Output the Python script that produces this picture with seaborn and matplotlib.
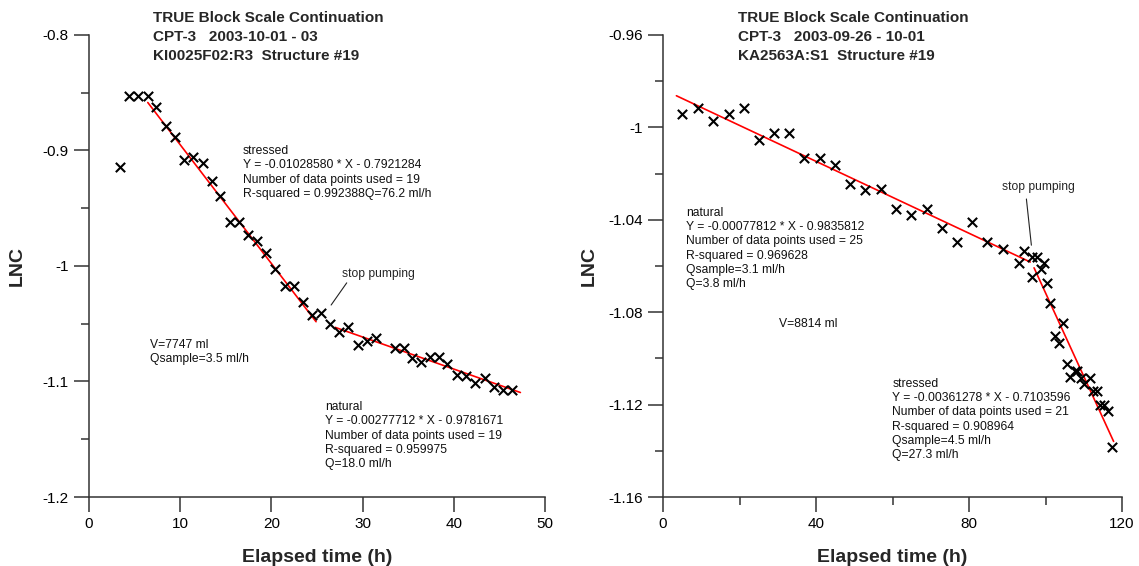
import matplotlib
matplotlib.use("Agg")
import matplotlib.pyplot as plt
from matplotlib.ticker import MultipleLocator
import numpy as np
import seaborn as sns

# ---- data ----
# left panel: KI0025F02:R3
left_time = [3.4, 4.4, 5.4, 6.45, 7.4, 8.4, 9.4, 10.45, 11.4, 12.45, 13.45, 14.4,
             15.45, 16.45, 17.45, 18.45, 19.45, 20.4, 21.5, 22.5, 23.5, 24.5, 25.4,
             26.4, 27.45, 28.4, 29.45, 30.45, 31.45, 33.5, 34.5, 35.4, 36.4, 37.4,
             38.35, 39.3, 40.3, 41.3, 42.3, 43.4, 44.4, 45.4, 46.4]
left_lnc = [-0.914, -0.853, -0.853, -0.853, -0.862, -0.879, -0.888, -0.908, -0.906,
            -0.911, -0.926, -0.939, -0.962, -0.962, -0.973, -0.978, -0.989, -1.003,
            -1.017, -1.017, -1.031, -1.042, -1.041, -1.050, -1.057, -1.053, -1.068,
            -1.065, -1.062, -1.071, -1.071, -1.080, -1.083, -1.079, -1.079, -1.085,
            -1.094, -1.095, -1.101, -1.097, -1.105, -1.107, -1.107]

# right panel: KA2563A:S1
right_time = [5.06, 9.13, 13.04, 17.14, 21.13, 25.04, 29.13, 33.05, 36.96, 41.06,
              44.97, 48.97, 52.9, 57.0, 60.9, 64.8, 68.9, 72.9, 76.8, 80.9, 84.8,
              88.8, 93.1, 94.4, 96.4, 96.5, 97.8, 98.7, 99.6, 100.5, 101.3, 102.4,
              103.5, 104.6, 105.5, 106.3, 107.6, 108.3, 109.4, 110.0, 111.5, 112.4,
              113.4, 114.3, 115.4, 116.3, 117.4]
right_lnc = [-0.9944, -0.9914, -0.9972, -0.9944, -0.9914, -1.0054, -1.0024, -1.0024,
             -1.0134, -1.0134, -1.0162, -1.0247, -1.0269, -1.0265, -1.0353, -1.0379,
             -1.0353, -1.0437, -1.0495, -1.0408, -1.0495, -1.0525, -1.0586, -1.0533,
             -1.0562, -1.0648, -1.0562, -1.0615, -1.0586, -1.0674, -1.0762, -1.0902,
             -1.0934, -1.0848, -1.1023, -1.1082, -1.1053, -1.1056, -1.1085, -1.1110,
             -1.1085, -1.1142, -1.1139, -1.1202, -1.1202, -1.1228, -1.1383]

# regression lines: (slope, intercept) and the time span they cover
left_stressed_coef = (-0.01028580, -0.7921284)
left_stressed_span = [6.45, 24.9]
left_natural_coef = (-0.00277712, -0.9781671)
left_natural_span = [27.0, 47.3]
right_natural_coef = (-0.00077812, -0.9835812)
right_natural_span = [3.5, 96.0]
right_stressed_coef = (-0.00361278, -0.7103596)
right_stressed_span = [97.0, 117.8]

left_title = ["TRUE Block Scale Continuation", "CPT-3   2003-10-01 - 03",
              "KI0025F02:R3  Structure #19"]
right_title = ["TRUE Block Scale Continuation", "CPT-3   2003-09-26 - 10-01",
               "KA2563A:S1  Structure #19"]

left_stressed_txt = ["stressed", "Y = -0.01028580 * X - 0.7921284",
                     "Number of data points used = 19", "R-squared = 0.992388Q=76.2 ml/h"]
left_natural_txt = ["natural", "Y = -0.00277712 * X - 0.9781671",
                    "Number of data points used = 19", "R-squared = 0.959975", "Q=18.0 ml/h"]
left_volume_txt = ["V=7747 ml", "Qsample=3.5 ml/h"]
right_natural_txt = ["natural", "Y = -0.00077812 * X - 0.9835812",
                     "Number of data points used = 25", "R-squared = 0.969628",
                     "Qsample=3.1 ml/h", "Q=3.8 ml/h"]
right_stressed_txt = ["stressed", "Y = -0.00361278 * X - 0.7103596",
                      "Number of data points used = 21", "R-squared = 0.908964",
                      "Qsample=4.5 ml/h", "Q=27.3 ml/h"]
right_volume_txt = ["V=8814 ml"]

sns.set_style("ticks")
plt.rcParams['font.family'] = ['Liberation Sans', 'DejaVu Sans']

fig = plt.figure(figsize=(11.39, 5.66), dpi=100)
ax1 = fig.add_axes([0.0781, 0.1219, 0.4004, 0.8163])
ax2 = fig.add_axes([0.5821, 0.1219, 0.4030, 0.8163])


def fit_line(ax, coef, span):
    xs = np.array(span)
    ys = coef[0] * xs + coef[1]
    sns.lineplot(x=xs, y=ys, color="#ff0000", linewidth=1.2, ax=ax)


def text_block(ax, x, y, lines, size=8.7, step=10.3):
    for i, line in enumerate(lines):
        ax.annotate(line, xy=(x, y), xytext=(0, -i * step), textcoords="offset points",
                    ha="left", va="center", fontsize=size, color="#111111")


def style_axes(ax):
    sns.despine(ax=ax)
    for s in ["left", "bottom"]:
        ax.spines[s].set_linewidth(1.1)
        ax.spines[s].set_color("#333333")
    ax.tick_params(which="major", direction="out", length=11, width=1.1,
                   color="#333333", labelsize=11, labelcolor="black")
    ax.tick_params(which="minor", direction="out", length=6, width=1.1, color="#333333")
    ax.set_xlabel("Elapsed time (h)", fontsize=14, fontweight="bold")
    ax.set_ylabel("LNC", fontsize=14, fontweight="bold")
    ax.xaxis.set_label_coords(0.5, -0.112)


# Graph 1 - KI0025F02:R3
sns.scatterplot(x=left_time, y=left_lnc, marker="x", color="black", s=45,
                linewidth=1.5, ax=ax1, zorder=3)
fit_line(ax1, left_stressed_coef, left_stressed_span)
fit_line(ax1, left_natural_coef, left_natural_span)
ax1.set_xlim(0, 50)
ax1.set_ylim(-1.2, -0.8)
ax1.xaxis.set_major_locator(MultipleLocator(10))
ax1.yaxis.set_minor_locator(MultipleLocator(0.05))
ax1.set_yticks([-0.8, -0.9, -1.0, -1.1, -1.2])
ax1.set_yticklabels(["-0.8", "-0.9", "-1", "-1.1", "-1.2"])
style_axes(ax1)
ax1.yaxis.set_label_coords(-0.138, 0.5)
text_block(ax1, 16.9, -0.9005, left_stressed_txt)
text_block(ax1, 25.9, -1.122, left_natural_txt)
text_block(ax1, 6.7, -1.068, left_volume_txt)
ax1.annotate("stop pumping", xy=(27.7, -1.0066), ha="left", va="center", fontsize=8.7)
ax1.plot([28.26, 26.55], [-1.0146, -1.0338], color="#222222", linewidth=0.8)

# Graph 2 - KA2563A:S1
sns.scatterplot(x=right_time, y=right_lnc, marker="x", color="black", s=45,
                linewidth=1.5, ax=ax2, zorder=3)
fit_line(ax2, right_natural_coef, right_natural_span)
fit_line(ax2, right_stressed_coef, right_stressed_span)
ax2.set_xlim(0, 120)
ax2.set_ylim(-1.16, -0.96)
ax2.xaxis.set_major_locator(MultipleLocator(40))
ax2.xaxis.set_minor_locator(MultipleLocator(20))
ax2.yaxis.set_minor_locator(MultipleLocator(0.02))
ax2.set_yticks([-0.96, -1.0, -1.04, -1.08, -1.12, -1.16])
ax2.set_yticklabels(["-0.96", "-1", "-1.04", "-1.08", "-1.12", "-1.16"])
style_axes(ax2)
ax2.yaxis.set_label_coords(-0.142, 0.5)
text_block(ax2, 6.0, -1.037, right_natural_txt)
text_block(ax2, 59.9, -1.111, right_stressed_txt)
text_block(ax2, 30.4, -1.085, right_volume_txt)
ax2.annotate("stop pumping", xy=(88.6, -1.026), ha="left", va="center", fontsize=8.7)
ax2.plot([95.0, 96.3], [-1.031, -1.051], color="#222222", linewidth=0.8)

# titles
for i, line in enumerate(left_title):
    fig.text(0.1343, 0.968 - i * 0.0336, line, fontsize=11, fontweight="bold", va="center")
for i, line in enumerate(right_title):
    fig.text(0.648, 0.968 - i * 0.0336, line, fontsize=11, fontweight="bold", va="center")

fig.savefig("out.png", dpi=100)
